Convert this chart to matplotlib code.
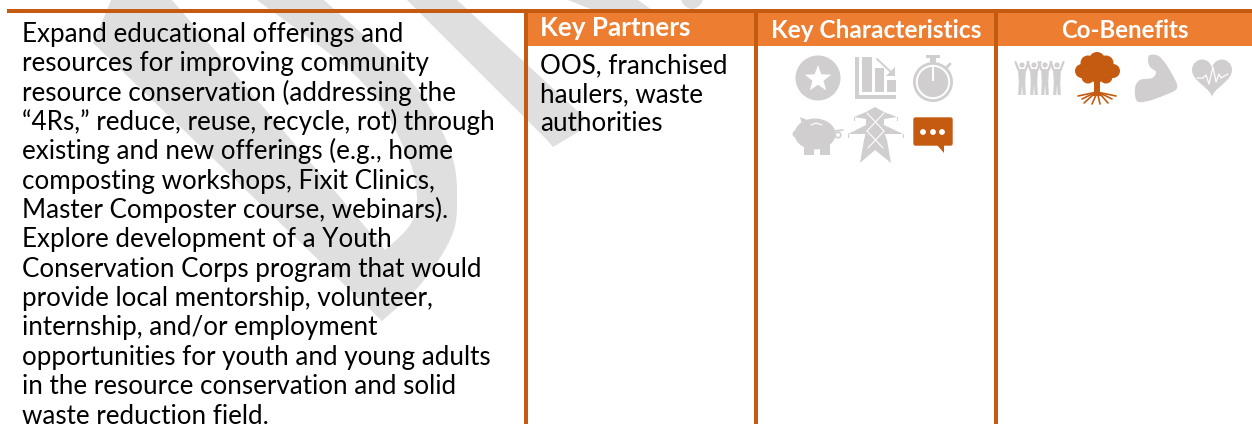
import numpy as np
import matplotlib
matplotlib.use("Agg")
import matplotlib.pyplot as plt
from matplotlib.patches import Polygon, Rectangle, Circle, Ellipse, FancyBboxPatch
from matplotlib.textpath import TextPath
from matplotlib.font_manager import FontProperties

description_lines = [
    "Expand educational offerings and",
    "resources for improving community",
    "resource conservation (addressing the",
    "\u201c4Rs,\u201d reduce, reuse, recycle, rot) through",
    "existing and new offerings (e.g., home",
    "composting workshops, Fixit Clinics,",
    "Master Composter course, webinars).",
    "Explore development of a Youth",
    "Conservation Corps program that would",
    "provide local mentorship, volunteer,",
    "internship, and/or employment",
    "opportunities for youth and young adults",
    "in the resource conservation and solid",
    "waste reduction field.",
]
partner_lines = ["OOS, franchised", "haulers, waste", "authorities"]
headers = ["Key Partners", "Key Characteristics", "Co-Benefits"]

DARK = "#C55A11"
ORANGE = "#ED7D31"
GREY = "#D0CECE"
WM = "#DFDFDF"

W, H = 1252, 424
fig = plt.figure(figsize=(W / 100, H / 100), dpi=100)
ax = fig.add_axes([0, 0, 1, 1])
ax.set_xlim(0, W)
ax.set_ylim(H, 0)
ax.axis("off")

reg = FontProperties(family="Lato")
bold = FontProperties(family="Lato", weight="bold")
def fit_pt(s, px, fp):
    return px / TextPath((0, 0), s, size=1, prop=fp).get_extents().width * 72 / 100
body_pt = fit_pt(description_lines[11], 466, reg)

def curve(pts, closed=True):
    """Catmull-Rom outline through the given outline points."""
    p = np.array(pts, float)
    out = []
    n = len(p)
    rng = range(n) if closed else range(n - 1)
    for i in rng:
        a, b, c, d = p[(i - 1) % n], p[i], p[(i + 1) % n], p[(i + 2) % n]
        if not closed:
            if i == 0: a = b
            if i == n - 2: d = c
        for t in np.linspace(0, 1, 10, endpoint=False):
            out.append(0.5 * (2 * b + (c - a) * t + (2 * a - 5 * b + 4 * c - d) * t**2 + (3 * b - a - 3 * c + d) * t**3))
    if not closed:
        out.append(p[-1])
    return np.array(out)

# watermark: a big rotated "D" and other letter fragments
outer = curve([(324, 0), (410, 80), (450, 150), (457, 203), (450, 240), (420, 285), (382, 321)], closed=False)
inner = curve([(385, 250), (410, 225), (417, 197), (405, 150), (360, 80), (257, 0)], closed=False)
d_shape = np.vstack([[(93, 43), (382, 321)], outer[::-1], [(324, -2), (257, -2)], inner[::-1], [(385, 250), (172, 0), (172, -2), (112, -2)]])
ax.add_patch(Polygon(d_shape, closed=True, fc=WM, ec="none", zorder=1))
ax.add_patch(Polygon([(407, 0), (457, 0), (585, 118), (578, 132), (553, 147), (547, 140)], fc=WM, ec="none", zorder=1))
ax.add_patch(Polygon([(568, 0), (638, 0), (652, 10), (593, 10)], fc=WM, ec="none", zorder=1))
ax.add_patch(Polygon(curve([(681, 0), (685, 6), (692, 9), (699, 6), (703, 0)], closed=False), fc=WM, ec="none", zorder=1))

# table frame
ax.add_patch(Rectangle((528, 13), 226, 33, fc=ORANGE, ec="none", zorder=2))
ax.add_patch(Rectangle((758, 13), 236, 33, fc=ORANGE, ec="none", zorder=2))
ax.add_patch(Rectangle((998, 13), 254, 33, fc=ORANGE, ec="none", zorder=2))
ax.add_patch(Rectangle((7, 9), W - 7, 4, fc=DARK, ec="none", zorder=3))
for x, w in [(524, 4), (754, 4), (994, 4)]:
    ax.add_patch(Rectangle((x, 9), w, H, fc=DARK, ec="none", zorder=3))

# text
for i, line in enumerate(description_lines):
    ax.text(22, 42.0 + i * 29.35, line, fontproperties=reg, fontsize=body_pt, color="black", va="baseline", ha="left", zorder=5)
for i, line in enumerate(partner_lines):
    ax.text(540, 73 + i * 29.2, line, fontproperties=reg, fontsize=body_pt, color="black", va="baseline", ha="left", zorder=5)
ax.text(540, 35.5, headers[0], fontproperties=bold, fontsize=fit_pt(headers[0], 147, bold), color="white", va="baseline", ha="left", zorder=5)
ax.text(876, 38.5, headers[1], fontproperties=bold, fontsize=fit_pt(headers[1], 207, bold), color="white", va="baseline", ha="center", zorder=5)
ax.text(1125, 38.5, headers[2], fontproperties=bold, fontsize=fit_pt(headers[2], 126, bold), color="white", va="baseline", ha="center", zorder=5)

def poly(pts, c=GREY, z=4):
    ax.add_patch(Polygon(pts, closed=True, fc=c, ec="none", zorder=z))
def rect(x0, y0, x1, y1, c=GREY, z=4):
    ax.add_patch(Rectangle((x0, y0), x1 - x0, y1 - y0, fc=c, ec="none", zorder=z))
def disc(x, y, r, c=GREY, z=4):
    ax.add_patch(Circle((x, y), r, fc=c, ec="none", zorder=z))
def stroke(pts, c=GREY, lw=1.0, z=4):
    p = np.array(pts, float)
    ax.plot(p[:, 0], p[:, 1], color=c, lw=lw, solid_capstyle="round", solid_joinstyle="round", zorder=z)

# star
disc(818, 78, 22.5)
ang = np.deg2rad(-90 + np.arange(10) * 36)
rad = np.where(np.arange(10) % 2 == 0, 14, 5.8)
poly(np.c_[818 + rad * np.cos(ang), 79 + rad * np.sin(ang)], "white", 5)

# falling bars
rect(855, 57, 859, 99)
rect(855, 95, 896, 99)
rect(862, 57, 872, 92)
rect(875, 68, 884, 92)
rect(887, 80, 896, 92)
stroke([(877, 59), (893, 74)], lw=1.4)
poly([(895, 76), (895, 67), (886, 76)])

# stopwatch
disc(933, 82, 20)
disc(933, 82, 17.2, "white", 5)
disc(933, 82, 15.2, GREY, 6)
rect(932.2, 66, 933.8, 81, "white", 7)
rect(930, 56, 936, 63)
rect(926, 55, 940, 58)
stroke([(947, 67), (950, 64)], lw=2)

# piggy bank
ax.add_patch(Ellipse((815, 134), 41, 31, fc=GREY, ec="none", zorder=4))
disc(796, 134, 3.5)
poly([(800, 117), (812, 122), (803, 128)])
rect(804, 145, 814, 155)
rect(820, 145, 830, 155)
stroke([(811, 125), (816, 123), (822, 125)], "white", 0.9, 5)
stroke([(835, 131), (843, 130)], lw=1.2)
ax.add_patch(Circle((838, 135), 2.8, fc="none", ec=GREY, lw=1.2, zorder=4))

# pylon
poly([(875, 107), (884, 112), (884, 132), (887, 140), (891, 163), (875, 150), (860, 163), (864, 140), (866, 132), (866, 112)])
poly([(854, 117), (866, 112), (866, 119)])
poly([(884, 112), (897, 117), (884, 119)])
poly([(848, 134), (866, 125), (866, 134)])
poly([(884, 125), (903, 134), (884, 134)])
stroke([(854, 117), (854, 120)], lw=0.8)
stroke([(897, 117), (897, 120)], lw=0.8)
stroke([(848, 134), (848, 137)], lw=0.8)
stroke([(903, 134), (903, 137)], lw=0.8)
for a, b in [((867, 113), (884, 131)), ((884, 113), (867, 131)), ((867, 131), (883, 148)), ((884, 131), (868, 148))]:
    stroke([a, b], "white", 0.8, 5)

# chat bubble
ax.add_patch(FancyBboxPatch((914, 118), 38, 27, boxstyle="round,pad=0,rounding_size=1.5", fc=DARK, ec=DARK, lw=1, zorder=4))
poly([(937, 145), (944, 153), (944, 145)], DARK)
for x in (923, 933, 942):
    disc(x, 132, 2.9, "white", 5)

# people
for cx in (1022, 1034, 1045, 1057):
    disc(cx, 65, 2.6)
    poly([(cx - 4, 69), (cx + 4, 69), (cx + 3.2, 82), (cx + 3.8, 95), (cx + 0.7, 95), (cx, 84), (cx - 0.7, 95), (cx - 3.8, 95), (cx - 3.2, 82)])
    stroke([(cx - 3.5, 70), (cx - 6.5, 62)], lw=1.6)
    stroke([(cx + 3.5, 70), (cx + 6.5, 62)], lw=1.6)

# tree
for x, y, r in [(1097, 60, 8), (1088, 63, 7.5), (1106, 63, 7.5), (1082, 71, 7), (1113, 71, 7), (1097, 70, 11), (1088, 77, 6.5), (1106, 77, 6.5)]:
    disc(x, y, r, DARK)
poly([(1094, 78), (1100, 78), (1100, 92), (1103, 96), (1091, 96), (1094, 92)], DARK)
for a in [[(1095, 82), (1088, 76)], [(1099, 82), (1106, 76)], [(1097, 92), (1078, 96)], [(1097, 92), (1116, 96)],
          [(1094, 94), (1084, 103)], [(1096, 95), (1092, 104)], [(1098, 95), (1100, 104)], [(1100, 94), (1108, 103)], [(1102, 94), (1112, 99)], [(1092, 94), (1082, 99)]]:
    stroke(a, DARK, 1.2)

# flexed arm
poly(curve([(1150, 55), (1160, 57), (1172, 74), (1177, 88), (1165, 95), (1148, 101), (1137, 101), (1135, 88), (1140, 80), (1152, 78), (1156, 72), (1150, 67), (1148, 60)]))

# heart with trace
t = np.linspace(0, 2 * np.pi, 120)
hx = 16 * np.sin(t) ** 3
hy = 13 * np.cos(t) - 5 * np.cos(2 * t) - 2 * np.cos(3 * t) - np.cos(4 * t)
poly(np.c_[1212 + hx * 1.25, 75 - hy * 1.3])
stroke([(1197, 78), (1203, 78), (1206, 75), (1209, 84), (1213, 67), (1216, 82), (1219, 74), (1221, 78), (1228, 74)], "white", 0.9, 5)

fig.savefig("out.png", dpi=100)
